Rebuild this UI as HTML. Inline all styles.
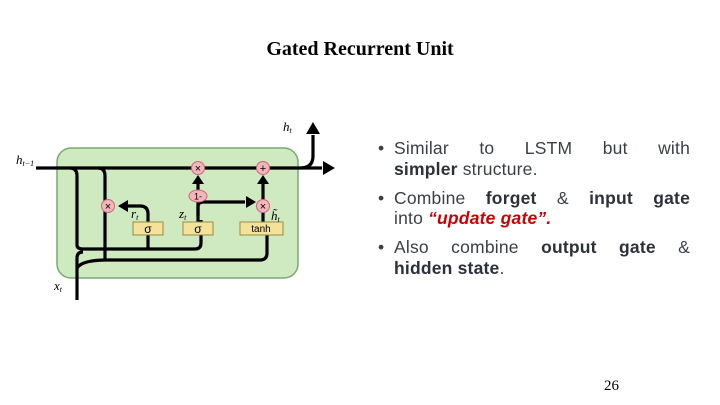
<!DOCTYPE html>
<html><head><style>
body{margin:0;width:720px;height:405px;background:#fff;position:relative;overflow:hidden;font-family:"Liberation Sans",sans-serif}
.t{position:absolute;top:38px;left:0;width:720px;text-align:center;font:bold 20px "Liberation Serif",serif}
.pg{position:absolute;left:604px;top:378px;font:15px "Liberation Serif",serif}
.tx{position:absolute;left:378px;top:138px;width:312px;color:#3a3f47;font-size:17.5px;line-height:20.5px;letter-spacing:0.2px}
.tx p{margin:0 0 8.5px 16px;text-align:justify;text-align-last:justify;position:relative}
.tx p span.l{display:block;text-align:left;text-align-last:left}
.tx p:before{content:"•";position:absolute;left:-16px}
b{color:#2c3038}
i{color:#c00;font-weight:bold}
</style></head><body>
<div class="t">Gated Recurrent Unit</div>
<svg width="720" height="405" style="position:absolute;left:0;top:0">
<rect x="57" y="148" width="241" height="130" rx="14" fill="#cfe9c0" stroke="#7aa870" stroke-width="1.5"/>
<g fill="none" stroke="#000" stroke-width="3.2">
<path d="M36,168H322"/>
<path d="M300,168q13,0 13,-12V135"/>
<path d="M70,168q7,0 7,8V245q0,4 6,4H195q6,0 6,-6V220"/>
<path d="M98,168q7,0 7,8V260"/>
<path d="M148,249V214q0,-8 -8,-8H128"/>
<path d="M77,300V258q0,-6 6,-6"/>
<path d="M77,268q5,-8 30,-8H260q7,0 7,-7V232"/>
<path d="M198,222V198"/>
<path d="M198,216V206q0,-4 6,-4H245"/>
<path d="M263,222V210"/>
<path d="M198,192V183"/>
<path d="M263,200V183"/>
</g>
<g fill="#000">
<path d="M313,122l-7,12h14z"/><path d="M335,168l-12,-7v14z"/>
<path d="M118,206l10,-6v12z"/><path d="M256,202l-10,-6v12z"/>
<path d="M198,175l-6,9h12z"/><path d="M263,175l-6,9h12z"/>
</g>
<g fill="#f4b6bd" stroke="#c67" stroke-width="1">
<circle cx="198" cy="168" r="6.5"/><circle cx="263" cy="168" r="6.5"/>
<circle cx="108" cy="206" r="6.5"/><circle cx="263" cy="206" r="6.5"/>
<ellipse cx="198" cy="196" rx="9" ry="6"/>
</g>
<g font-size="11" text-anchor="middle" font-family="Liberation Sans">
<text x="198" y="172">×</text><text x="263" y="172">+</text><text x="108" y="210">×</text><text x="263" y="210">×</text><text x="198" y="199.5" font-size="9">1-</text>
</g>
<g fill="#f4e29a" stroke="#9a8a40">
<rect x="133" y="222" width="30" height="13"/><rect x="183" y="222" width="30" height="13"/><rect x="240" y="222" width="43" height="13"/>
</g>
<g font-size="12" text-anchor="middle"><text x="148" y="233">σ</text><text x="198" y="233">σ</text><text x="261" y="232" font-size="10">tanh</text></g>
<g font-family="Liberation Serif" font-style="italic" font-size="13">
<text x="16" y="164">h<tspan font-size="8" dy="2">t−1</tspan></text>
<text x="283" y="131">h<tspan font-size="8" dy="2">t</tspan></text>
<text x="131" y="218">r<tspan font-size="8" dy="2">t</tspan></text>
<text x="179" y="218">z<tspan font-size="8" dy="2">t</tspan></text>
<text x="271" y="220">h̃<tspan font-size="8" dy="2">t</tspan></text>
<text x="54" y="290">x<tspan font-size="8" dy="2">t</tspan></text>
</g>
</svg>
<div class="tx">
<p>Similar to LSTM but with <span class="l"><b>simpler</b> structure.</span></p>
<p>Combine <b>forget</b> &amp; <b>input gate</b> <span class="l">into <i>“update gate”.</i></span></p>
<p>Also combine <b>output gate</b> &amp; <span class="l"><b>hidden state</b>.</span></p>
</div>
<div class="pg">26</div>
</body></html>
